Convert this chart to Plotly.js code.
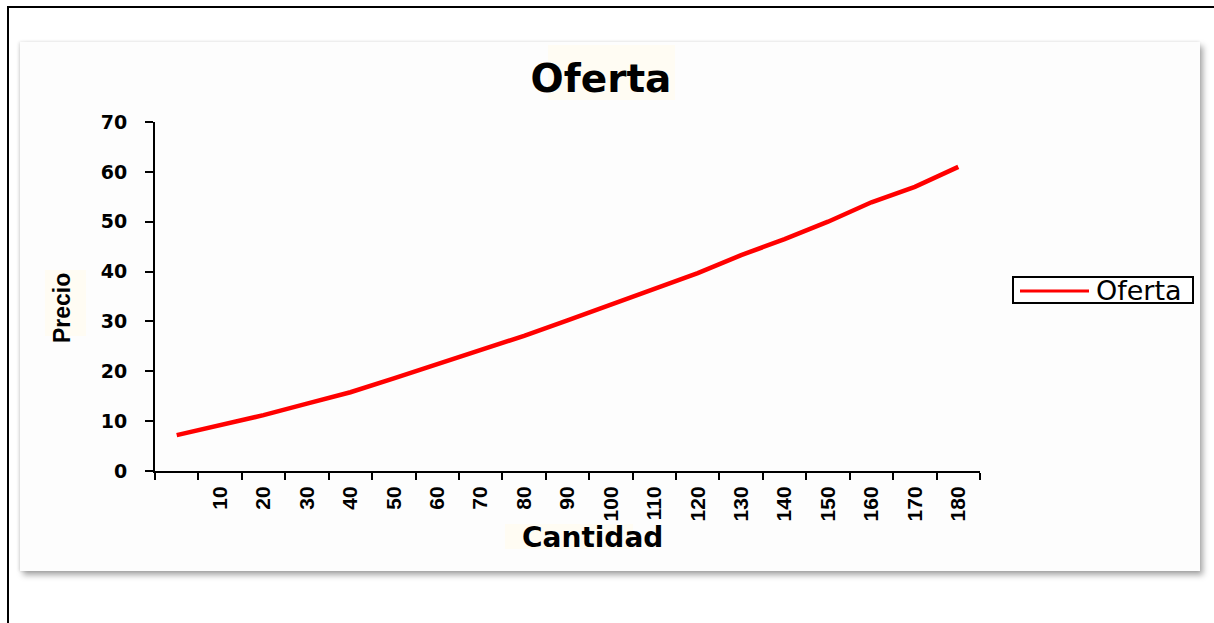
<!DOCTYPE html>
<html>
<head>
<meta charset="utf-8">
<script src="https://cdn.plot.ly/plotly-3.0.1.min.js"></script>
<style>
  html, body { margin: 0; padding: 0; background: #ffffff; overflow: hidden; }
  #frame { position: absolute; left: 7px; top: 6px; width: 1400px; height: 800px;
           border-top: 2px solid #000; border-left: 2px solid #000; }
  #card { position: absolute; left: 20px; top: 42px; width: 1180px; height: 529px;
          background: #fdfdfd; box-shadow: 3px 4px 6px rgba(0,0,0,0.35), -1px 0 3px rgba(0,0,0,0.12); }
  #chart { position: absolute; left: 0; top: 0; width: 1214px; height: 623px; }
</style>
</head>
<body>
<div id="frame"></div>
<div id="card"></div>
<div id="chart"></div>
<script>
// ---- data ----
const quantity = [0, 10, 20, 30, 40, 50, 60, 70, 80, 90, 100, 110, 120, 130, 140, 150, 160, 170, 180];
const price = [7.2, 9.1, 11.2, 13.5, 15.8, 18.6, 21.4, 24.2, 27.1, 30.2, 33.3, 36.5, 39.7, 43.3, 46.5, 50.0, 53.9, 57.0, 61.0];
const xTickVals = [10, 20, 30, 40, 50, 60, 70, 80, 90, 100, 110, 120, 130, 140, 150, 160, 170, 180];
const xTickText = ['10', '20', '30', '40', '50', '60', '70', '80', '90', '100', '110', '120', '130', '140', '150', '160', '170', '180'];
const yTickVals = [0, 10, 20, 30, 40, 50, 60, 70];
const seriesName = 'Oferta';

// category boundaries (tick marks sit between the categories)
const half = (quantity[1] - quantity[0]) / 2;
const boundaries = quantity.map(q => q - half).concat([quantity[quantity.length - 1] + half]);

// plot-area geometry in pixels
const W = 1214, H = 623;
const L = 155, R = 980, T = 122, B = 471;
const px = x => (x - L) / (R - L);
const py = y => (B - y) / (B - T);

const trace = {
  x: quantity, y: price, type: 'scatter', mode: 'lines', name: seriesName,
  line: { color: '#ff0000', width: 4.5 }, showlegend: false, hoverinfo: 'x+y'
};

const cream = '#fffcf3';
const layout = {
  width: W, height: H,
  paper_bgcolor: 'rgba(0,0,0,0)', plot_bgcolor: 'rgba(0,0,0,0)',
  margin: { l: L, r: W - R, t: T, b: H - B, pad: 0 },
  showlegend: false,
  title: {
    text: 'Oferta', x: 601 / W, xanchor: 'center', xref: 'container',
    y: 1 - 78 / H, yanchor: 'middle', yref: 'container',
    font: { family: 'DejaVu Sans', size: 39, weight: 'bold', color: '#000' }
  },
  xaxis: {
    range: [boundaries[0], boundaries[boundaries.length - 1]],
    tickmode: 'array', tickvals: xTickVals, ticktext: xTickText,
    ticks: '', tickangle: -90, ticklabelstandoff: 5,
    tickfont: { family: 'Liberation Sans, Arial', size: 21, weight: 'bold', color: '#000' },
    minor: { tickmode: 'array', tickvals: boundaries, ticks: 'outside', ticklen: 7, tickwidth: 2, tickcolor: '#000', showgrid: false },
    showline: true, linecolor: '#000', linewidth: 2, showgrid: false, zeroline: false,
    fixedrange: true
  },
  yaxis: {
    range: [0, 70], tickmode: 'array', tickvals: yTickVals,
    ticks: 'outside', ticklen: 8, tickwidth: 2, tickcolor: '#000', ticklabelstandoff: 14,
    tickfont: { family: 'DejaVu Sans', size: 19, weight: 'bold', color: '#000' },
    showline: true, linecolor: '#000', linewidth: 2, showgrid: false, zeroline: false,
    fixedrange: true
  },
  shapes: [
    // faint selection highlights behind the titles
    { type: 'rect', xref: 'paper', yref: 'paper', layer: 'below', x0: px(548), x1: px(675), y0: py(100), y1: py(45), fillcolor: cream, line: { width: 0 } },
    { type: 'rect', xref: 'paper', yref: 'paper', layer: 'below', x0: px(505), x1: px(633), y0: py(549), y1: py(524), fillcolor: cream, line: { width: 0 } },
    { type: 'rect', xref: 'paper', yref: 'paper', layer: 'below', x0: px(45), x1: px(86), y0: py(336), y1: py(270), fillcolor: cream, line: { width: 0 } },
    // legend box
    { type: 'rect', xref: 'paper', yref: 'paper', x0: px(1013), x1: px(1193), y0: py(303), y1: py(277), fillcolor: '#ffffff', line: { color: '#000', width: 2 } },
    // legend line sample
    { type: 'line', xref: 'paper', yref: 'paper', x0: px(1020), x1: px(1089), y0: py(291), y1: py(291), line: { color: '#ff0000', width: 3 } }
  ],
  annotations: [
    { text: 'Cantidad', xref: 'paper', yref: 'paper', x: px(592), y: py(537), xanchor: 'center', yanchor: 'middle', showarrow: false,
      font: { family: 'DejaVu Sans', size: 28, weight: 'bold', color: '#000' } },
    { text: 'Precio', xref: 'paper', yref: 'paper', x: px(62), y: py(308), xanchor: 'center', yanchor: 'middle', showarrow: false, textangle: -90,
      font: { family: 'Liberation Sans, Arial', size: 23, weight: 'bold', color: '#000' } },
    { text: seriesName, xref: 'paper', yref: 'paper', x: px(1094), y: py(290), xanchor: 'left', yanchor: 'middle', showarrow: false,
      font: { family: 'DejaVu Sans', size: 27, color: '#000' } }
  ]
};

Plotly.newPlot('chart', [trace], layout, { displayModeBar: false, staticPlot: true });
</script>
</body>
</html>
